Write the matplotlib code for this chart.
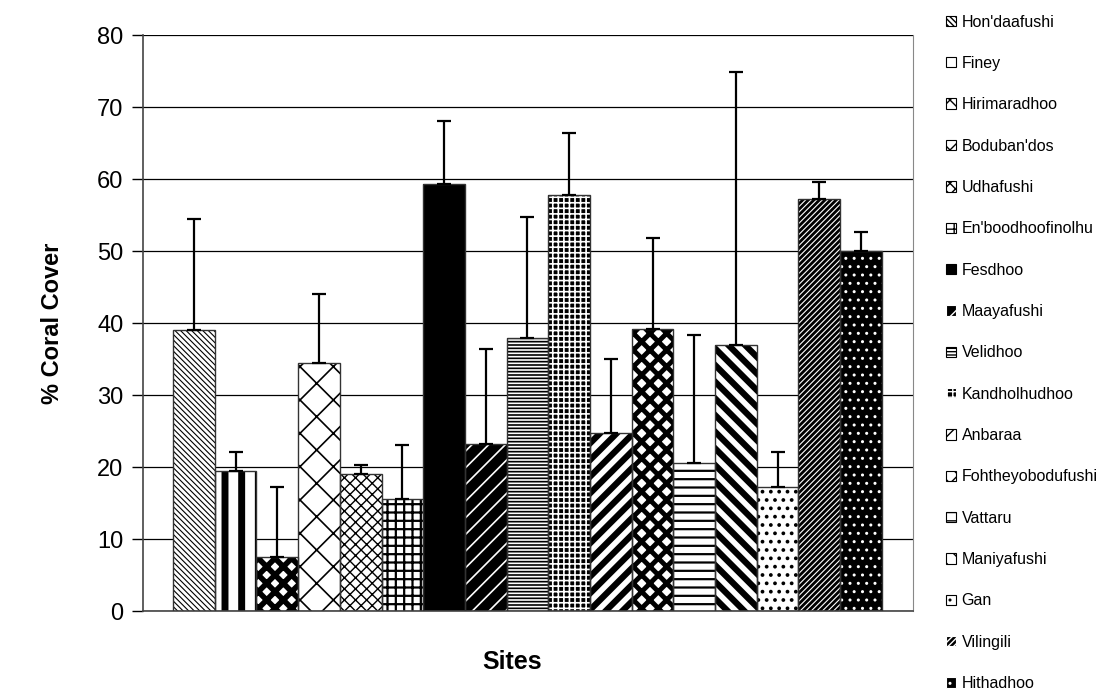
import numpy as np
import matplotlib.pyplot as plt
from matplotlib.patches import Rectangle

plt.rcParams['font.family'] = ['Liberation Sans', 'DejaVu Sans']

sites = ["Hon'daafushi", "Finey", "Hirimaradhoo", "Boduban'dos", "Udhafushi",
         "En'boodhoofinolhu", "Fesdhoo", "Maayafushi", "Velidhoo", "Kandholhudhoo",
         "Anbaraa", "Fohtheyobodufushi", "Vattaru", "Maniyafushi", "Gan",
         "Vilingili", "Hithadhoo"]
cover = [39.0, 19.5, 7.5, 34.5, 19.0, 15.5, 59.4, 23.2, 38.0, 57.8,
         24.7, 39.2, 20.6, 36.9, 17.2, 57.2, 50.0]
err = [15.5, 2.6, 9.8, 9.6, 1.3, 7.6, 8.7, 13.2, 16.7, 8.6,
       10.3, 12.6, 17.8, 38.0, 4.9, 2.4, 2.7]

# (facecolor, hatch colour, hatch, hatch linewidth)
styles = [
    ('white', 'black', '\\\\\\\\\\\\', 0.8),
    ('white', 'black', '|', 5.0),
    ('white', 'black', 'xx', 4.0),
    ('white', 'black', 'x', 1.2),
    ('white', 'black', 'xxx', 1.0),
    ('white', 'black', '++', 1.6),
    ('black', 'black', '', 1.0),
    ('black', 'white', '//', 1.2),
    ('white', 'black', '-----', 1.2),
    ('black', 'white', '+++', 1.2),
    ('white', 'black', '//', 4.5),
    ('white', 'black', 'xx', 3.5),
    ('white', 'black', '--', 1.6),
    ('white', 'black', '\\\\', 4.5),
    ('white', 'black', '..', 1.5),
    ('black', 'white', '//////', 0.8),
    ('black', 'white', '..', 1.0),
]

fig = plt.figure(figsize=(11.09, 6.92), dpi=100)
ax = fig.add_axes([0.129, 0.117, 0.694, 0.832])

x = np.arange(len(sites))
handles = []
for i in range(len(sites)):
    fc, hc, h, lw = styles[i]
    b = ax.bar(x[i], cover[i], width=1.0, color=fc, edgecolor=hc, hatch=h,
               linewidth=0, zorder=2)[0]
    if hasattr(b, 'set_hatch_linewidth'):
        b.set_hatch_linewidth(lw)
    ax.bar(x[i], cover[i], width=1.0, fill=False, edgecolor='#333333',
           linewidth=1.0, zorder=3)
    ax.errorbar(x[i], cover[i], yerr=[[0], [err[i]]], fmt='none',
                ecolor='black', elinewidth=1.6, capsize=5, capthick=1.6, zorder=4)
    p = Rectangle((0, 0), 1, 1, facecolor=fc, edgecolor=hc, hatch=h, linewidth=0.8)
    if hasattr(p, 'set_hatch_linewidth'):
        p.set_hatch_linewidth(min(lw, 1.5))
    handles.append(p)

ax.set_xlim(-0.5 - 0.72, len(sites) - 0.5 + 0.74)
ax.set_ylim(0, 80)
ax.set_yticks(np.arange(0, 81, 10))
ax.yaxis.grid(True, color='black', linewidth=0.9, zorder=0)
ax.set_axisbelow(True)
ax.set_xticks([])
ax.tick_params(axis='y', labelsize=17, length=8, width=1, direction='out', pad=6)
for s in ['left', 'bottom']:
    ax.spines[s].set_color('#444444')
    ax.spines[s].set_linewidth(1.2)
ax.spines['right'].set_color('#888888')
ax.spines['top'].set_visible(False)

ax.set_ylabel('% Coral Cover', fontsize=17, fontweight='bold', labelpad=24)
fig.text(0.462, 0.043, 'Sites', fontsize=18, fontweight='bold', ha='center', va='center')

fig.legend(handles, sites, loc='upper left', bbox_to_anchor=(0.853, 0.979),
           frameon=False, fontsize=11.5, handlelength=0.62, handleheight=0.62,
           handletextpad=0.35, labelspacing=1.65, borderaxespad=0, borderpad=0)

fig.savefig('out.png', dpi=100)
